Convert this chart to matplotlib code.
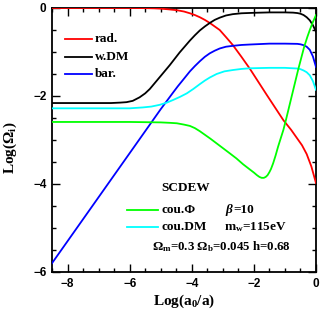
import matplotlib
matplotlib.use("Agg")
import matplotlib.pyplot as plt
from matplotlib.ticker import MultipleLocator

plt.rcParams['mathtext.fontset'] = 'custom'
plt.rcParams['mathtext.rm'] = 'Liberation Serif:bold'
plt.rcParams['mathtext.it'] = 'Liberation Serif:bold:italic'
plt.rcParams['mathtext.bf'] = 'Liberation Serif:bold'

# ---- data ----
rad_x = [-8.5, -6.0, -5.5, -5.2, -5.0, -4.75, -4.48, -4.25, -4.06, -3.9, -3.74, -3.58, -3.42,
         -3.26, -3.1, -2.9, -2.68, -2.4, -2.13, -1.59, -1.05, -0.8, -0.62, -0.45, -0.3, -0.15, 0.0]
rad_y = [0.0, 0.0, -0.003, -0.008, -0.015, -0.03, -0.05, -0.08, -0.12, -0.16, -0.21, -0.27, -0.34,
         -0.42, -0.5, -0.66, -0.84, -1.11, -1.38, -1.97, -2.55, -2.77, -2.95, -3.12, -3.32, -3.6, -3.98]

wdm_x = [-8.5, -6.6, -6.3, -6.1, -5.9, -5.68, -5.5, -5.35, -5.03, -4.71, -4.39, -4.06, -3.9,
         -3.74, -3.58, -3.42, -3.26, -3.1, -2.9, -2.68, -2.4, -2.03, -1.5, -1.0, -0.74, -0.6,
         -0.5, -0.4, -0.3, -0.2, -0.1, 0.0]
wdm_y = [-2.16, -2.16, -2.15, -2.14, -2.11, -2.03, -1.94, -1.84, -1.57, -1.3, -1.01, -0.74, -0.62,
         -0.51, -0.42, -0.34, -0.27, -0.22, -0.17, -0.14, -0.12, -0.11, -0.1, -0.1, -0.105, -0.115,
         -0.13, -0.16, -0.21, -0.28, -0.39, -0.54]

bar_x = [-8.5, -6.0, -5.0, -4.8, -4.6, -4.45, -4.3, -4.06, -3.9, -3.74, -3.58, -3.42, -3.26,
         -3.1, -2.9, -2.68, -2.4, -2.13, -1.5, -1.0, -0.6, -0.5, -0.4, -0.3, -0.2, -0.1, 0.0]
bar_y = [-5.8, -3.3, -2.3, -2.11, -1.92, -1.78, -1.65, -1.44, -1.32, -1.21, -1.11, -1.03, -0.97,
         -0.92, -0.88, -0.86, -0.84, -0.83, -0.81, -0.81, -0.815, -0.825, -0.845, -0.88, -0.95,
         -1.1, -1.34]

cdm_x = [-8.5, -6.0, -5.58, -5.3, -5.03, -4.8, -4.6, -4.38, -4.16, -3.95, -3.74, -3.58, -3.42,
         -3.2, -2.95, -2.68, -2.4, -2.13, -1.5, -1.0, -0.61, -0.5, -0.4, -0.3, -0.2, -0.1, 0.0]
cdm_y = [-2.28, -2.28, -2.26, -2.24, -2.2, -2.15, -2.09, -2.02, -1.94, -1.84, -1.73, -1.65, -1.58,
         -1.5, -1.44, -1.41, -1.385, -1.37, -1.36, -1.36, -1.375, -1.39, -1.42, -1.46, -1.53,
         -1.66, -1.86]

cphi_x = [-8.5, -6.0, -5.0, -4.7, -4.48, -4.25, -4.06, -3.9, -3.74, -3.58, -3.4, -3.1, -2.8,
          -2.56, -2.35, -2.13, -2.0, -1.9, -1.82, -1.75, -1.68, -1.62, -1.56, -1.5, -1.45,
          -1.38, -1.3, -1.22, -1.05, -0.97, -0.77, -0.57, -0.38, -0.28, -0.2, -0.1, 0.0]
cphi_y = [-2.59, -2.59, -2.6, -2.61, -2.62, -2.65, -2.68, -2.73, -2.8, -2.88, -2.97, -3.13, -3.29,
          -3.42, -3.55, -3.67, -3.74, -3.8, -3.84, -3.86, -3.86, -3.84, -3.8, -3.73, -3.66,
          -3.53, -3.35, -3.15, -2.77, -2.55, -1.97, -1.39, -0.88, -0.66, -0.5, -0.32, -0.16]

x_ticks = [-8, -6, -4, -2, 0]
y_ticks = [-6, -4, -2, 0]

W, H = 327, 313
fig = plt.figure(figsize=(W / 100, H / 100), dpi=100)
ax = fig.add_axes([52 / W, 1 - 272 / H, (316 - 52) / W, (272 - 8) / H])

lw = 1.3
ax.plot(rad_x, rad_y, color='#ff0000', lw=lw, zorder=3)
ax.plot(wdm_x, wdm_y, color='black', lw=lw, zorder=3)
ax.plot(bar_x, bar_y, color='#0000ff', lw=lw, zorder=3)
ax.plot(cdm_x, cdm_y, color='#00ffff', lw=lw, zorder=3)
ax.plot(cphi_x, cphi_y, color='#00ff00', lw=lw, zorder=3)

ax.set_xlim(-8.5, 0)
ax.set_ylim(-6, 0)
ax.set_xticks(x_ticks)
ax.set_yticks(y_ticks)
ax.xaxis.set_minor_locator(MultipleLocator(0.5))
ax.yaxis.set_minor_locator(MultipleLocator(0.5))
ax.tick_params(which='both', direction='in', top=True, right=True, width=1.0)
ax.tick_params(which='major', length=6, pad=4)
ax.tick_params(which='minor', length=3)
for s in ax.spines.values():
    s.set_linewidth(1.3)

tick_font = dict(family='Liberation Sans', weight='bold', size=8.5)
ax.set_xticklabels([('\u2212%d' % -v) if v < 0 else '%d' % v for v in x_ticks], **tick_font)
ax.set_yticklabels([('\u2212%d' % -v) if v < 0 else '%d' % v for v in y_ticks], **tick_font)

serif = dict(family='Liberation Serif', weight='bold')

def px(x, y):
    return x / W, 1 - y / H

fig.text(*px(184, 301), r'Log(a$_\mathrm{0}$/a)', ha='center', va='center', size=11, **serif)
fig.text(*px(10, 148), r'Log($\Omega_\mathrm{i}$)', ha='center', va='center', size=11,
         rotation=90, **serif)

# upper legend
leg = [('rad.', '#ff0000', 39), ('w.DM', 'black', 57), ('bar.', '#0000ff', 74)]
for lab, col, yy in leg:
    fig.add_artist(plt.Line2D([65 / W, 92 / W], [1 - yy / H, 1 - yy / H], color=col, lw=lw))
    fig.text(*px(95, yy), lab, ha='left', va='center', size=9.5, **serif)

# lower legend / annotation
fig.text(*px(161, 188), 'SCDEW', ha='left', va='center', size=9.5, **serif)
leg2 = [('cou.\u03a6', '#00ff00', 210), ('cou.DM', '#00ffff', 227)]
for lab, col, yy in leg2:
    fig.add_artist(plt.Line2D([127 / W, 158 / W], [1 - yy / H, 1 - yy / H], color=col, lw=lw))
    fig.text(*px(161, yy), lab, ha='left', va='center', size=9.5, **serif)
fig.text(*px(225, 210), '\u03b2', ha='left', va='center', size=9.5, style='italic', **serif)
fig.text(*px(233, 210), '=10', ha='left', va='center', size=9.5, **serif)
fig.text(*px(224, 227), r'm$_\mathrm{w}$=115eV', ha='left', va='center', size=9.5, **serif)
fig.text(*px(152, 247), r'$\Omega_\mathrm{m}$=0.3 $\Omega_\mathrm{b}$=0.045 h=0.68',
         ha='left', va='center', size=9.3, **serif)

fig.savefig('out.png', dpi=100)
